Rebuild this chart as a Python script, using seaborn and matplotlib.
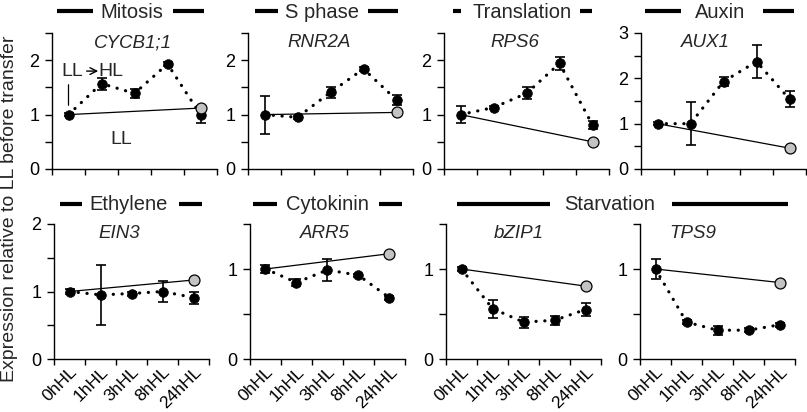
import numpy as np
import pandas as pd
import matplotlib
matplotlib.use('Agg')
import matplotlib.pyplot as plt
from matplotlib.lines import Line2D
import seaborn as sns

# ---- data ----
times = ['0hHL', '1hHL', '3hHL', '8hHL', '24hHL']
genes = ['CYCB1;1', 'RNR2A', 'RPS6', 'AUX1', 'EIN3', 'ARR5', 'bZIP1', 'TPS9']

# expression after transfer to high light (mean, error)
hl_cycb1 = [1.00, 1.57, 1.39, 1.93, 1.00]
err_cycb1 = [0.03, 0.11, 0.08, 0.03, 0.16]
hl_rnr2a = [1.00, 0.95, 1.41, 1.84, 1.27]
err_rnr2a = [0.35, 0.03, 0.10, 0.03, 0.09]
hl_rps6 = [1.00, 1.13, 1.39, 1.94, 0.81]
err_rps6 = [0.16, 0.03, 0.11, 0.12, 0.08]
hl_aux1 = [1.00, 1.00, 1.93, 2.37, 1.54]
err_aux1 = [0.03, 0.48, 0.09, 0.37, 0.18]
hl_ein3 = [1.00, 0.95, 0.97, 1.00, 0.91]
err_ein3 = [0.03, 0.45, 0.03, 0.16, 0.09]
hl_arr5 = [1.00, 0.85, 0.99, 0.93, 0.68]
err_arr5 = [0.04, 0.04, 0.12, 0.02, 0.02]
hl_bzip1 = [1.00, 0.56, 0.41, 0.43, 0.55]
err_bzip1 = [0.02, 0.10, 0.06, 0.05, 0.07]
hl_tps9 = [1.00, 0.41, 0.32, 0.32, 0.38]
err_tps9 = [0.11, 0.02, 0.05, 0.02, 0.02]

# plants kept in low light, sampled at 24 h
ll_24h = [1.12, 1.04, 0.50, 0.46, 1.17, 1.17, 0.81, 0.85]

hl_values = [hl_cycb1, hl_rnr2a, hl_rps6, hl_aux1, hl_ein3, hl_arr5, hl_bzip1, hl_tps9]
hl_errors = [err_cycb1, err_rnr2a, err_rps6, err_aux1, err_ein3, err_arr5, err_bzip1, err_tps9]
y_max = [2.5, 2.5, 2.5, 3, 2, 1.5, 1.5, 1.5]

# ---- layout (pixels of the 807x412 figure) ----
W, H = 807, 412
top_lefts = [52, 248, 444, 641]
bottom_lefts = [54, 250, 446, 640]
gene_x = [0.49, 0.43, 0.43, 0.39, 0.42, 0.48, 0.47, 0.34]

# header label, text centre, y, bar segments
headers = [
    ('Mitosis', 132, 12, [(57, 93), (173, 204)]),
    ('S phase', 322, 12, [(255, 278), (368, 398)]),
    ('Translation', 522, 12, [(453, 461), (580, 592)]),
    ('Auxin', 720, 12, [(645, 681), (763, 794)]),
    ('Ethylene', 129, 205, [(60, 82), (179, 202)]),
    ('Cytokinin', 327, 205, [(253, 277), (379, 402)]),
    ('Starvation', 610, 205, [(457, 550), (672, 788)]),
]

sns.set_style('ticks')
plt.rcParams['font.family'] = ['Liberation Sans', 'DejaVu Sans']
plt.rcParams['axes.linewidth'] = 1.0


def rect(x0, y_top, w, h):
    return [x0 / W, 1 - (y_top + h) / H, w / W, h / H]


fig = plt.figure(figsize=(8.07, 4.12), dpi=100)
xpos = np.arange(len(times))

axes = []
for i, gene in enumerate(genes):
    if i < 4:
        ax = fig.add_axes(rect(top_lefts[i], 33, 165, 136))
    else:
        ax = fig.add_axes(rect(bottom_lefts[i - 4], 224, 155, 135))
    axes.append(ax)

    vals = hl_values[i]
    errs = hl_errors[i]

    sns.lineplot(x=xpos, y=vals, ax=ax, color='black', lw=2.3,
                 linestyle=(0, (0.05, 2.7)), dash_capstyle='round', zorder=2)
    ax.errorbar(xpos, vals, yerr=errs, fmt='none', ecolor='black',
                elinewidth=1.2, capsize=3.8, capthick=1.2, zorder=3)
    sns.scatterplot(x=xpos, y=vals, ax=ax, color='black', edgecolor='black',
                    s=48, zorder=4)

    ll_x = [xpos[0], xpos[-1]]
    sns.lineplot(x=ll_x, y=[vals[0], ll_24h[i]], ax=ax, color='black', lw=0.9, zorder=3)
    sns.scatterplot(x=[xpos[-1]], y=[ll_24h[i]], ax=ax, color='#c3c3c3',
                    edgecolor='black', linewidth=0.9, s=62, zorder=5)

    ax.set_xlim(-0.5, len(times) - 0.5)
    ax.set_ylim(0, y_max[i])
    ax.set_xticks(np.arange(-0.5, len(times)))
    ax.set_xticklabels([])
    ax.set_yticks(np.arange(0, y_max[i] + 0.01, 1))
    ax.set_yticks(np.arange(0.5, y_max[i] + 0.01, 1), minor=True)
    ax.tick_params(axis='both', which='both', direction='out', color='black',
                   width=1.0, labelsize=13, labelcolor='black')
    ax.tick_params(axis='y', which='both', length=5, pad=4)
    ax.tick_params(axis='x', which='major', length=4)
    if i >= 4:
        ax.set_xticks(xpos, minor=True)
        ax.set_xticklabels(times, minor=True, rotation=45, ha='right',
                           rotation_mode='anchor', fontsize=12.5)
        ax.tick_params(axis='x', which='minor', length=0, pad=4)
    for side in ['top', 'right']:
        ax.spines[side].set_visible(False)
    for side in ['left', 'bottom']:
        ax.spines[side].set_color('black')
    ax.set_xlabel('')
    ax.set_ylabel('')
    ax.text(gene_x[i], 0.99, gene, transform=ax.transAxes, ha='center', va='top',
            fontsize=13.5, style='italic')

# annotations in the first panel
ax0 = axes[0]
ax0.text(-0.22, 1.80, 'LL', ha='left', va='center', fontsize=14)
ax0.annotate('', xy=(0.9, 1.80), xytext=(0.55, 1.80),
             arrowprops=dict(arrowstyle='->', color='black', lw=1.0,
                             shrinkA=0, shrinkB=0, mutation_scale=12))
ax0.text(0.92, 1.80, 'HL', ha='left', va='center', fontsize=14)
ax0.annotate('', xy=(0, 1.12), xytext=(0, 1.6),
             arrowprops=dict(arrowstyle='-', color='black', lw=0.9))
ax0.text(1.6, 0.55, 'LL', ha='center', va='center', fontsize=14)

# group headers with bars
for label, cx, cy, bars in headers:
    fig.text(cx / W, 1 - cy / H, label, ha='center', va='center', fontsize=14.5)
    for x0, x1 in bars:
        fig.add_artist(Line2D([x0 / W, x1 / W], [1 - (cy - 1) / H, 1 - (cy - 1) / H],
                              color='black', lw=3, solid_capstyle='butt'))

fig.text(10 / W, 1 - 209 / H, 'Expression relative to LL before transfer',
         rotation=90, ha='center', va='center', fontsize=14)

fig.savefig('out.png', dpi=100)
